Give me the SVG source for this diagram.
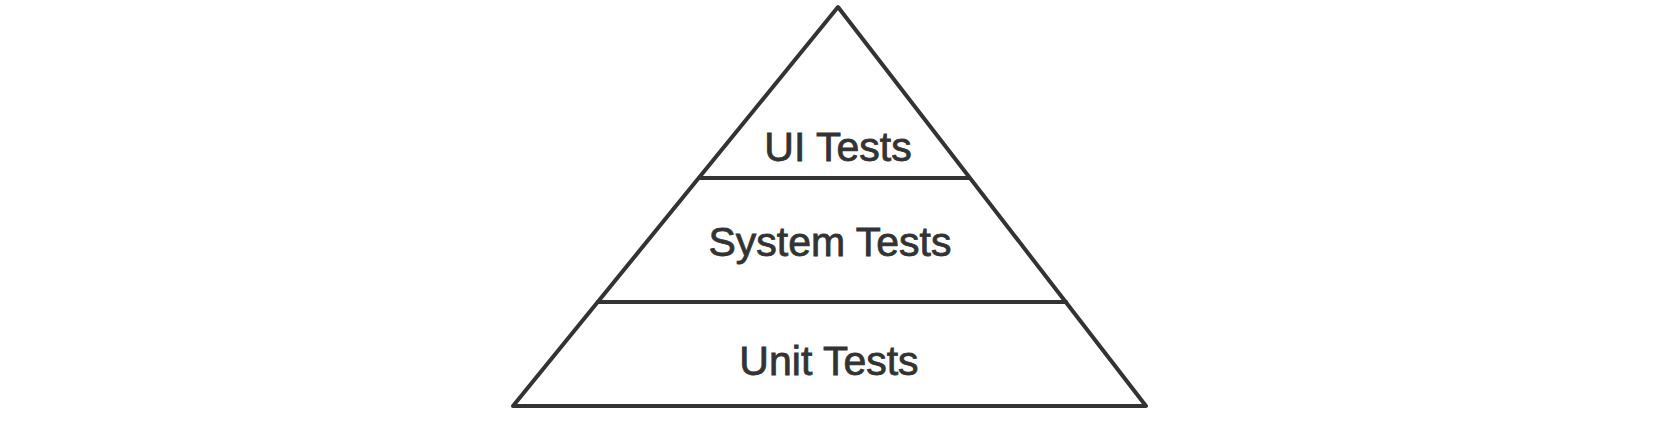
<svg xmlns="http://www.w3.org/2000/svg" width="1665" height="421" viewBox="0 0 1665 421">
<style>
.shape{fill:none;stroke:#333333;stroke-width:4;stroke-linejoin:round;stroke-linecap:round}
.lbl{font-family:"Liberation Sans",Arial,sans-serif;font-size:41px;fill:#333333;stroke:#333333;stroke-width:0.8;text-anchor:middle}
</style>
<rect width="1665" height="421" fill="#ffffff"/>
<g id="pyramid">
<polygon class="shape" points="838,7 1146,406 513,406"/>
</g>
<g id="connectors">
<line class="shape" x1="699" y1="178" x2="969" y2="178"/>
<line class="shape" x1="598" y1="302" x2="1066" y2="302"/>
</g>
<g id="ui-tests">
<text class="lbl" x="838" y="161">UI Tests</text>
</g>
<g id="system-tests">
<text class="lbl" x="830" y="256">System Tests</text>
</g>
<g id="unit-tests">
<text class="lbl" x="829" y="375">Unit Tests</text>
</g>
</svg>
